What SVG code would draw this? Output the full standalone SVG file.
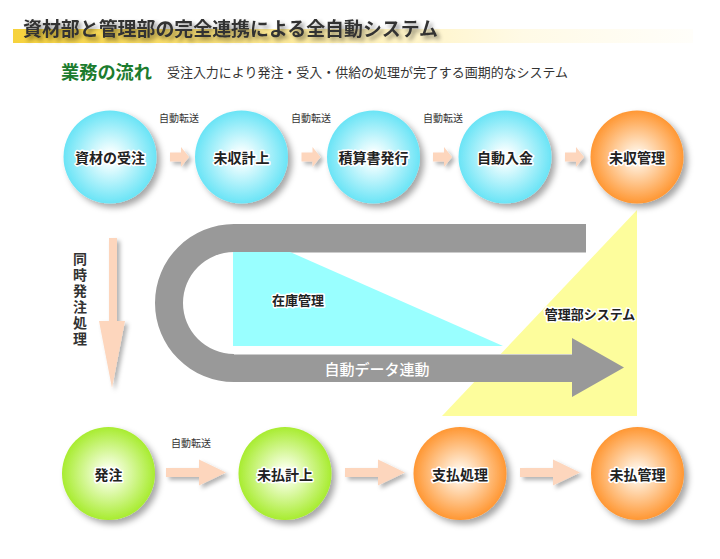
<svg xmlns="http://www.w3.org/2000/svg" xmlns:xlink="http://www.w3.org/1999/xlink" width="720" height="559" viewBox="0 0 720 559">
<defs>
  <radialGradient id="gCyan" cx="50%" cy="50%" r="50%">
    <stop offset="0" stop-color="#ffffff"/>
    <stop offset="0.15" stop-color="#f2feff"/>
    <stop offset="1" stop-color="#6ae4f6"/>
  </radialGradient>
  <radialGradient id="gOrange" cx="50%" cy="50%" r="50%">
    <stop offset="0" stop-color="#fffaf2"/>
    <stop offset="0.15" stop-color="#ffefdc"/>
    <stop offset="1" stop-color="#ff9733"/>
  </radialGradient>
  <radialGradient id="gGreen" cx="50%" cy="50%" r="50%">
    <stop offset="0" stop-color="#ffffff"/>
    <stop offset="0.15" stop-color="#f6ffe2"/>
    <stop offset="1" stop-color="#a8ec30"/>
  </radialGradient>
  <linearGradient id="gBand" x1="13" y1="0" x2="693" y2="0" gradientUnits="userSpaceOnUse">
    <stop offset="0" stop-color="#f6d23c"/>
    <stop offset="0.3" stop-color="#fbe27a"/>
    <stop offset="0.5" stop-color="#fff1b8"/>
    <stop offset="0.75" stop-color="#fffae6"/>
    <stop offset="1" stop-color="#fffefa"/>
  </linearGradient>
  <filter id="shadow" x="-20%" y="-20%" width="150%" height="150%">
    <feDropShadow dx="4" dy="4" stdDeviation="3" flood-color="#000" flood-opacity="0.35"/>
  </filter>
  <filter id="ashadow" x="-20%" y="-30%" width="150%" height="180%">
    <feDropShadow dx="3" dy="3" stdDeviation="2" flood-color="#000" flood-opacity="0.3"/>
  </filter>
  <filter id="tshadow" x="-5%" y="-30%" width="115%" height="180%">
    <feDropShadow dx="3" dy="3" stdDeviation="2" flood-color="#000" flood-opacity="0.45"/>
  </filter>
  <path id="arrS" d="M0,-4.5 H11 V-10 L19,0 L11,10 V4.5 H0 Z"/>
  <path id="arrL" d="M0,-4.5 H33 V-13 L60,0 L33,13 V4.5 H0 Z"/>
  <style>
    .jp { font-family: "Noto Sans CJK JP", "Noto Sans CJK SC", sans-serif; }
    .title { font-size: 19px; font-weight: bold; fill: #333333; }
    .head { font-size: 18px; font-weight: bold; fill: #1c7c2e; }
    .sub { font-size: 13px; fill: #333333; }
    .ntext { font-size: 14px; font-weight: bold; fill: #222222; text-anchor: middle; dominant-baseline: central; paint-order: stroke; stroke: #ffffff; stroke-width: 3px; stroke-linejoin: round; }
    .lbl { font-size: 10px; fill: #333333; text-anchor: middle; dominant-baseline: central; }
    .vtext { font-size: 14px; font-weight: bold; fill: #333333; writing-mode: vertical-rl; letter-spacing: 2px; }
    .arrow { fill: #fdd6bd; filter: url(#ashadow); }
    .cyan { fill: url(#gCyan); filter: url(#shadow); }
    .orange { fill: url(#gOrange); filter: url(#shadow); }
    .green { fill: url(#gGreen); filter: url(#shadow); }
  </style>
</defs>
<rect width="720" height="559" fill="#ffffff"/>

<!-- header -->
<g id="title">
  <rect x="13" y="29" width="680" height="14" fill="url(#gBand)"/>
  <text class="jp title" x="23" y="36" textLength="415" lengthAdjust="spacingAndGlyphs" filter="url(#tshadow)">資材部と管理部の完全連携による全自動システム</text>
</g>
<g id="subtitle">
  <text class="jp head" x="61" y="79" textLength="91" lengthAdjust="spacingAndGlyphs">業務の流れ</text>
  <text class="jp sub" x="167" y="77" textLength="401" lengthAdjust="spacingAndGlyphs">受注入力により発注・受入・供給の処理が完了する画期的なシステム</text>
</g>

<!-- middle area -->
<g id="mgmt-system">
  <polygon points="637,210 637,416 442,416" fill="#fdfd9c"/>
  <text class="jp ntext" x="590" y="313" style="font-size:13px">管理部システム</text>
</g>
<g id="data-link">
  <path d="M586,224 H234 A79,79 0 0 0 234,382 H572 V397 L624,367.5 L572,338 V354 H234 A51,51 0 0 1 234,252 H586 Z" fill="#999999"/>
  <line x1="234" y1="252.5" x2="586" y2="252.5" stroke="#cccccc" stroke-width="1"/>
  <line x1="234" y1="354.5" x2="572" y2="354.5" stroke="#cccccc" stroke-width="1"/>
  <text class="jp" x="377" y="368" fill="#ffffff" font-size="15" font-weight="500" text-anchor="middle" dominant-baseline="central">自動データ連動</text>
</g>
<g id="inventory">
  <polygon points="233,252 290,252 503,346 233,346" fill="#99ffff"/>
  <text class="jp ntext" x="298" y="299" style="font-size:13px">在庫管理</text>
</g>

<!-- top row nodes -->
<g id="n-juchu"><circle class="cyan" cx="110" cy="157" r="46.5"/><text class="jp ntext" x="110" y="157">資材の受注</text></g>
<g id="n-mishu-keijo"><circle class="cyan" cx="241.5" cy="157" r="46.5"/><text class="jp ntext" x="241.5" y="157">未収計上</text></g>
<g id="n-seikyu"><circle class="cyan" cx="373.5" cy="157" r="46.5"/><text class="jp ntext" x="373.5" y="157">積算書発行</text></g>
<g id="n-nyukin"><circle class="cyan" cx="505" cy="157" r="46.5"/><text class="jp ntext" x="505" y="157">自動入金</text></g>
<g id="n-mishu-kanri"><circle class="orange" cx="637" cy="157" r="46.5"/><text class="jp ntext" x="637" y="157">未収管理</text></g>

<!-- bottom row nodes -->
<g id="n-hatchu"><circle class="green" cx="108.5" cy="473.5" r="46.5"/><text class="jp ntext" x="108.5" y="473.5">発注</text></g>
<g id="n-mibarai-keijo"><circle class="green" cx="285" cy="473.5" r="46.5"/><text class="jp ntext" x="285" y="473.5">未払計上</text></g>
<g id="n-shiharai"><circle class="orange" cx="460" cy="473.5" r="46.5"/><text class="jp ntext" x="460" y="473.5">支払処理</text></g>
<g id="n-mibarai-kanri"><circle class="orange" cx="637.5" cy="473.5" r="46.5"/><text class="jp ntext" x="637.5" y="473.5">未払管理</text></g>

<!-- connectors -->
<g id="connectors">
  <use xlink:href="#arrS" href="#arrS" class="arrow" x="170" y="157"/>
  <use xlink:href="#arrS" href="#arrS" class="arrow" x="301.5" y="157"/>
  <use xlink:href="#arrS" href="#arrS" class="arrow" x="433" y="157"/>
  <use xlink:href="#arrS" href="#arrS" class="arrow" x="565" y="157"/>
  <text class="jp lbl" x="179" y="117">自動転送</text>
  <text class="jp lbl" x="311" y="117">自動転送</text>
  <text class="jp lbl" x="443" y="117">自動転送</text>

  <path class="arrow" d="M109,238 H117 V321 H125 L112,388 L99,321 H109 Z"/>
  <text class="jp vtext" x="80" y="252">同時発注処理</text>

  <use xlink:href="#arrL" href="#arrL" class="arrow" x="166" y="472.5"/>
  <use xlink:href="#arrL" href="#arrL" class="arrow" x="345" y="472.5"/>
  <use xlink:href="#arrL" href="#arrL" class="arrow" x="520" y="472.5"/>
  <text class="jp lbl" x="191" y="442">自動転送</text>
</g>
</svg>
